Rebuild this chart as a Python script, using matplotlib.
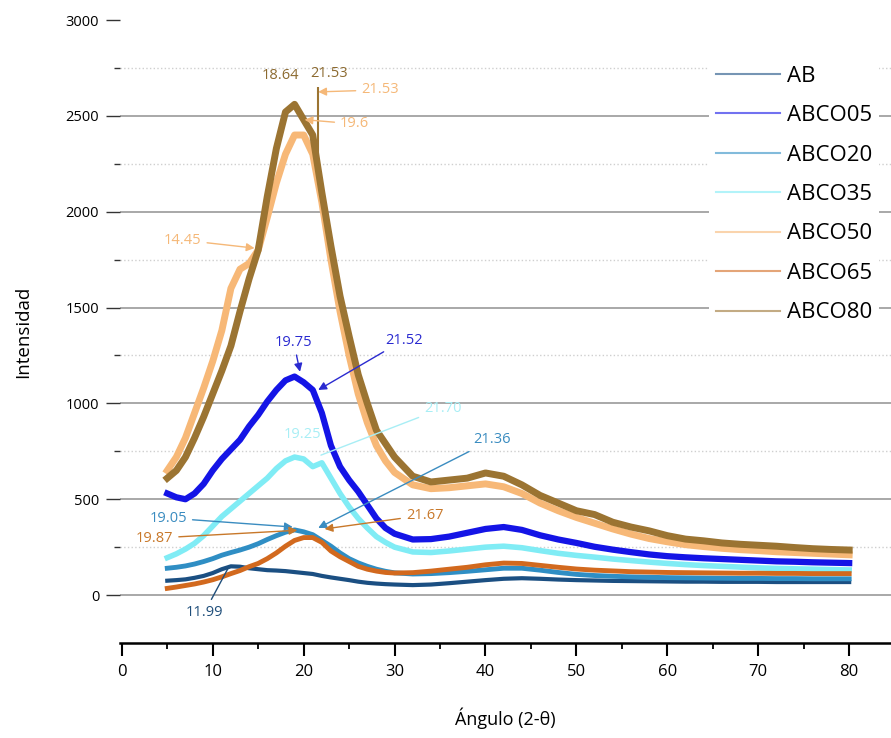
import numpy as np
from matplotlib import pyplot as plt
from matplotlib.lines import Line2D
from matplotlib.ticker import MultipleLocator

angulo = np.concatenate([np.arange(5, 31), np.arange(32, 81, 2)])

ab = [75, 78, 82, 90, 100, 115, 135, 150, 148, 140, 135, 130, 128, 125, 120, 115, 110, 100, 92, 85, 78, 70, 64, 60, 57, 55,
      52, 55, 62, 70, 78, 85, 88, 85, 81, 78, 76, 74, 73, 72, 71, 70, 70, 69, 69, 69, 68, 68, 68, 68, 68]
abco05 = [530, 510, 500, 530, 580, 650, 710, 760, 810, 880, 940, 1010, 1070, 1120, 1140, 1110, 1070, 950, 780, 670, 600, 540, 470, 400, 350, 320,
          290, 292, 305, 325, 345, 355, 340, 312, 290, 272, 252, 237, 224, 212, 203, 197, 192, 188, 184, 180, 176, 174, 171, 169, 167]
abco20 = [140, 145, 152, 162, 175, 190, 208, 222, 235, 250, 268, 290, 310, 328, 340, 330, 315, 285, 255, 220, 190, 168, 150, 135, 124, 116,
          110, 112, 117, 124, 132, 140, 140, 130, 118, 108, 102, 98, 95, 93, 91, 90, 89, 88, 87, 87, 86, 86, 85, 85, 85]
abco35 = [195, 215, 240, 270, 310, 360, 410, 450, 490, 530, 570, 610, 660, 700, 720, 710, 670, 690, 610, 530, 460, 400, 350, 305, 275, 250,
          225, 222, 230, 240, 250, 255, 247, 232, 218, 207, 198, 188, 180, 172, 165, 159, 154, 150, 146, 142, 139, 137, 135, 133, 131]
abco50 = [650, 720, 820, 950, 1080, 1220, 1380, 1600, 1700, 1730, 1800, 1970, 2150, 2300, 2400, 2400, 2300, 2050, 1750, 1480, 1250, 1050, 900, 780, 700, 640,
          575, 555, 560, 570, 580, 565, 530, 480, 440, 405, 375, 345, 318, 295, 278, 263, 253, 244, 237, 232, 226, 222, 218, 214, 210]
abco65 = [35, 42, 50, 58, 68, 80, 95, 112, 128, 148, 165, 190, 220, 255, 285, 300, 300, 275, 230, 200, 175, 150, 135, 125, 118, 115,
          117, 125, 135, 145, 158, 167, 165, 155, 145, 136, 130, 126, 122, 120, 118, 117, 116, 115, 114, 114, 113, 113, 112, 112, 112]
abco80 = [610, 650, 720, 820, 930, 1050, 1170, 1300, 1480, 1650, 1800, 2080, 2330, 2520, 2560, 2480, 2400, 2100, 1820, 1560, 1350, 1150, 1000, 860, 790, 720,
          620, 590, 600, 610, 637, 620, 575, 520, 480, 440, 420, 380, 355, 335, 310, 292, 283, 272, 265, 260, 255, 248, 242, 238, 235]

# pico agudo de ABCO80
pico_x = 21.53
pico_base = 2250
pico_y = 2650

nombres = ["AB", "ABCO05", "ABCO20", "ABCO35", "ABCO50", "ABCO65", "ABCO80"]
series = [ab, abco05, abco20, abco35, abco50, abco65, abco80]
colores = ["#1b4f82", "#1414e6", "#2f8ec4", "#80ecf5", "#f7b877", "#d2691e", "#9b7432"]
grosor = [3, 4.5, 3.5, 4, 5, 3.5, 5]

# etiquetas de picos: texto, posicion del texto, punta de la flecha, color, estilo
etiquetas = [
    ("18.64", (17.4, 2710), None, "#8c6a30", None),
    ("21.53", (22.8, 2720), None, "#8c6a30", None),
    ("21.53", (28.4, 2635), (21.6, 2625), "#f5b878", "-|>"),
    ("19.6", (25.6, 2458), (20.1, 2480), "#f5b878", "-|>"),
    ("14.45", (6.7, 1852), (14.6, 1810), "#f5b878", "-|>"),
    ("19.75", (18.9, 1320), (19.6, 1165), "#2a2ad0", "-|>"),
    ("21.52", (31.0, 1330), (21.6, 1070), "#2a2ad0", "-|>"),
    ("19.25", (19.9, 840), None, "#a8eef5", None),
    ("21.70", (35.3, 975), (21.9, 730), "#a8eef5", "-"),
    ("21.36", (40.7, 809), (21.6, 350), "#3a8cc0", "-|>"),
    ("19.05", (5.1, 402), (18.8, 355), "#3a8cc0", "-|>"),
    ("19.87", (3.6, 297), (19.3, 338), "#c8782a", "-|>"),
    ("21.67", (33.3, 417), (22.3, 345), "#c8782a", "-|>"),
    ("11.99", (9.1, -89), (11.7, 141), "#1f4e7a", "-"),
]

plt.rcParams["font.family"] = ["Open Sans", "DejaVu Sans"]

fig = plt.figure(figsize=(8.91, 7.38), dpi=100)
ax = fig.add_axes([120 / 891, 95 / 738, 771 / 891, 623 / 738])

for nombre, y, c, lw in zip(nombres, series, colores, grosor):
    ax.plot(angulo, y, color=c, lw=lw, solid_joinstyle="round", label=nombre)
ax.vlines(pico_x, pico_base, pico_y, color=colores[-1], lw=1.5)

for txt, pos, punta, c, estilo in etiquetas:
    if punta is None:
        ax.text(pos[0], pos[1], txt, color=c, fontsize=10.5, ha="center", va="center")
    else:
        ax.annotate(txt, xy=punta, xytext=pos, color=c, fontsize=10.5, ha="center", va="center",
                    arrowprops=dict(arrowstyle=estilo, color=c, lw=1, shrinkA=2, shrinkB=0,
                                    mutation_scale=12))

ax.set_xlim(-0.2, 84.6)
ax.set_ylim(-250, 3000)
ax.xaxis.set_major_locator(MultipleLocator(10))
ax.xaxis.set_minor_locator(MultipleLocator(5))
ax.set_yticks(np.arange(0, 3001, 500))
ax.set_yticks(np.arange(250, 3000, 500), minor=True)

for lado in ["left", "right", "top"]:
    ax.spines[lado].set_visible(False)
ax.spines["bottom"].set_linewidth(1.8)

ax.tick_params(axis="x", which="major", direction="out", length=9, width=1.5, labelsize=12, pad=6)
ax.tick_params(axis="x", which="minor", direction="out", length=4, width=1.3)
ax.tick_params(axis="y", which="major", direction="out", length=10, width=1, labelsize=10.5, pad=5, color="#333333")
ax.tick_params(axis="y", which="minor", direction="out", length=4, width=1, color="#333333")

ax.set_axisbelow(True)
ax.yaxis.grid(True, which="major", color="#9a9a9a", lw=1.2)
ax.yaxis.grid(True, which="minor", color="#cfcfcf", lw=1, ls=":")
ax.get_ygridlines()[-1].set_visible(False)

ax.set_xlabel("Ángulo (2-θ)", fontsize=13, labelpad=20)
ax.set_ylabel("Intensidad", fontsize=13.5, labelpad=24)

manijas = [Line2D([], [], color=c, lw=1.5, alpha=0.6) for c in colores]
leg = ax.legend(manijas, nombres, loc="upper left", bbox_to_anchor=(709 / 891, 1 - 59 / 738),
                bbox_transform=fig.transFigure, fontsize=16, frameon=True, fancybox=False,
                borderpad=0.3, borderaxespad=0, labelspacing=0.83, handlelength=2.9, handletextpad=0.3)
leg.get_frame().set_facecolor("white")
leg.get_frame().set_edgecolor("none")
leg.get_frame().set_alpha(1)

plt.savefig("out.png", dpi=100)
